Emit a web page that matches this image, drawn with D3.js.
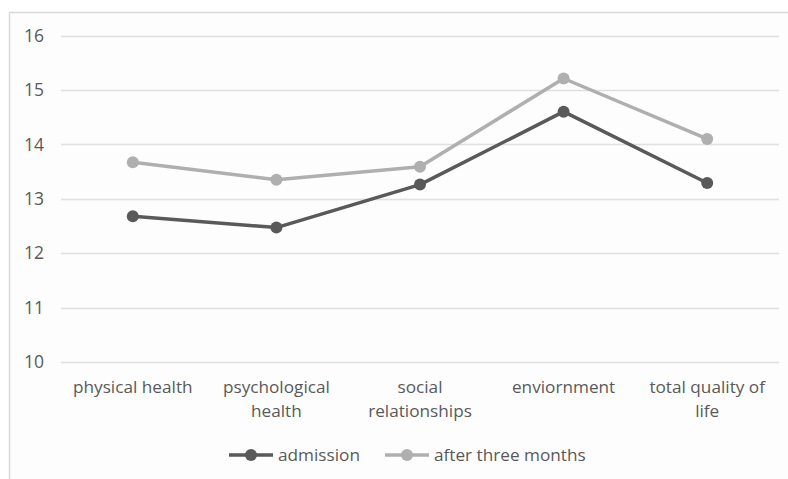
<!DOCTYPE html>
<html><head><meta charset="utf-8">
<script src="https://cdn.jsdelivr.net/npm/d3@7/dist/d3.min.js"></script>
<style>
html,body{margin:0;padding:0;background:#fff;}
svg text{font-family:"Open Sans",sans-serif;fill:#595959;}
</style></head><body>
<svg id="c" width="788" height="479"></svg>
<script>
const categories = [["physical health"],["psychological","health"],["social","relationships"],["enviornment"],["total quality of","life"]];
const categoryKeys = ["physical health","psychological health","social relationships","enviornment","total quality of life"];
const admission = [12.68, 12.47, 13.26, 14.60, 13.29];
const afterThreeMonths = [13.67, 13.35, 13.59, 15.21, 14.10];
const yTicks = [10, 11, 12, 13, 14, 15, 16];
const seriesNames = ["admission", "after three months"];
const seriesColors = ["#595959", "#afafaf"];

const svg = d3.select("#c");
svg.append("rect").attr("x",9.5).attr("y",12.5).attr("width",820).attr("height",520)
  .attr("fill","#fdfdfd").attr("stroke","#d9d9d9").attr("stroke-width",1.5);

const x = d3.scaleBand().domain(categoryKeys).range([61, 779]);
const y = d3.scaleLinear().domain([10, 16]).range([362, 35.5]);

svg.append("g").selectAll("line").data(yTicks).join("line")
  .attr("x1",61).attr("x2",779).attr("y1",d=>Math.round(y(d))+0.5).attr("y2",d=>Math.round(y(d))+0.5)
  .attr("stroke","#e0e0e0").attr("stroke-width",1.3);

svg.append("g").selectAll("text").data(yTicks).join("text")
  .attr("x",44).attr("y",d=>y(d)).attr("dy","0.36em").attr("text-anchor","end")
  .attr("font-size",17.5).text(d=>d);

const xl = svg.append("g").selectAll("text").data(categoryKeys).join("text")
  .attr("x",d=>x(d)+x.bandwidth()/2).attr("y",393).attr("text-anchor","middle").attr("font-size",17.2);
xl.each(function(d,i){
  const t = d3.select(this);
  categories[i].forEach((ln,j)=>{
    t.append("tspan").attr("x",x(d)+x.bandwidth()/2).attr("dy", j===0?0:24).text(ln);
  });
});

const series = [admission, afterThreeMonths];
const line = d3.line().x((d,i)=>x(categoryKeys[i])+x.bandwidth()/2).y(d=>y(d));
[1,0].forEach(s=>{
  const g = svg.append("g");
  g.append("path").datum(series[s]).attr("d",line).attr("fill","none")
    .attr("stroke",seriesColors[s]).attr("stroke-width",3.5).attr("stroke-linejoin","round");
  g.selectAll("circle").data(series[s]).join("circle")
    .attr("cx",(d,i)=>x(categoryKeys[i])+x.bandwidth()/2).attr("cy",d=>y(d)).attr("r",6)
    .attr("fill",seriesColors[s]);
});

const legendX = [229, 385];
seriesNames.forEach((n,i)=>{
  const lg = svg.append("g");
  lg.append("line").attr("x1",legendX[i]).attr("x2",legendX[i]+44).attr("y1",455).attr("y2",455)
    .attr("stroke",seriesColors[i]).attr("stroke-width",3.5);
  lg.append("circle").attr("cx",legendX[i]+22).attr("cy",455).attr("r",6).attr("fill",seriesColors[i]);
  lg.append("text").attr("x",legendX[i]+49).attr("y",455).attr("dy","0.36em").attr("font-size",17.2).text(n);
});
</script>
</body></html>
